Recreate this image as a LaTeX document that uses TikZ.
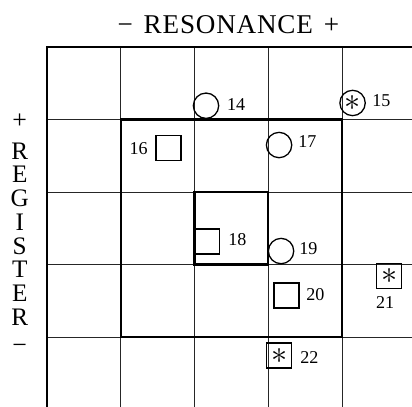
\documentclass[tikz,border=0pt]{standalone}
\usepackage{fontspec}
\setmainfont{Liberation Serif}
\tikzstyle{grid}=[draw=black!85,line width=0.55pt]
\tikzstyle{axis}=[draw=black,line width=1.6pt]
\tikzstyle{box}=[draw=black,line width=1.7pt]
\tikzstyle{sq}=[rectangle,draw=black,line width=1pt,inner sep=0pt,
  minimum width=0.68cm,minimum height=0.68cm,font=\fontsize{25}{25}\selectfont]
\tikzstyle{ci}=[circle,draw=black,line width=1pt,inner sep=0pt,
  minimum size=0.69cm,font=\fontsize{25}{25}\selectfont]
\tikzstyle{num}=[inner sep=0pt,font=\fontsize{14}{14}\selectfont]
\tikzstyle{big}=[inner sep=0pt,font=\fontsize{20}{20}\selectfont]

\begin{document}
\begin{tikzpicture}[x=2.006cm,y=1.973cm]
  \useasboundingbox (-1.279cm,1.279cm) rectangle (9.932cm,-9.769cm);
  \clip (-1.279cm,1.279cm) rectangle (9.932cm,-9.769cm);
  % grid
  \foreach \i in {1,...,5} {
    \draw[grid] (\i,0) -- (\i,-5.5);
    \draw[grid] (0,-\i) -- (5.5,-\i);
  }
  \draw[axis] (0,-5.5) -- (0,0) -- (5.5,0);
  \draw[box] (1,-1) rectangle (4,-4);
  \draw[box] (2,-2) rectangle (3,-3);
  % axis labels
  \node[big,font=\fontsize{21}{21}\selectfont] (title) at (2.46,0.31)
    {\addfontfeature{LetterSpace=3}−\hspace{0.4em}RESONANCE\hspace{0.4em}+};
  \node[big] (plus) at (-0.37,-1.02) {+};
  \node[big,align=center,font=\fontsize{19.5}{18.4}\selectfont] (register) at (-0.37,-2.58)
    {R\\E\\G\\I\\S\\T\\E\\R};
  \node[big] (minus) at (-0.37,-4.17) {−};
  % marks
  \node[ci] (m14) at (2.157,-0.81) {};
  \node[num,anchor=west] (l14) at (2.44,-0.79) {14};
  \node[ci] (m15) at (4.145,-0.772) {$\ast$};
  \node[num,anchor=west] (l15) at (4.41,-0.74) {15};
  \node[sq] (m16) at (1.649,-1.393) {};
  \node[num,anchor=east] (l16) at (1.37,-1.407) {16};
  \node[ci] (m17) at (3.148,-1.352) {};
  \node[num,anchor=west] (l17) at (3.406,-1.31) {17};
  \node[sq] (m18) at (2.171,-2.683) {};
  \node[num,anchor=west] (l18) at (2.456,-2.662) {18};
  \node[ci] (m19) at (3.175,-2.814) {};
  \node[num,anchor=west] (l19) at (3.419,-2.786) {19};
  \node[sq] (m20) at (3.25,-3.428) {};
  \node[num,anchor=west] (l20) at (3.514,-3.42) {20};
  \node[sq] (m21) at (4.64,-3.159) {$\ast$};
  \node[num] (l21) at (4.586,-3.53) {21};
  \node[sq] (m22) at (3.148,-4.255) {$\ast$};
  \node[num,anchor=west] (l22) at (3.433,-4.276) {22};
\end{tikzpicture}
\end{document}
